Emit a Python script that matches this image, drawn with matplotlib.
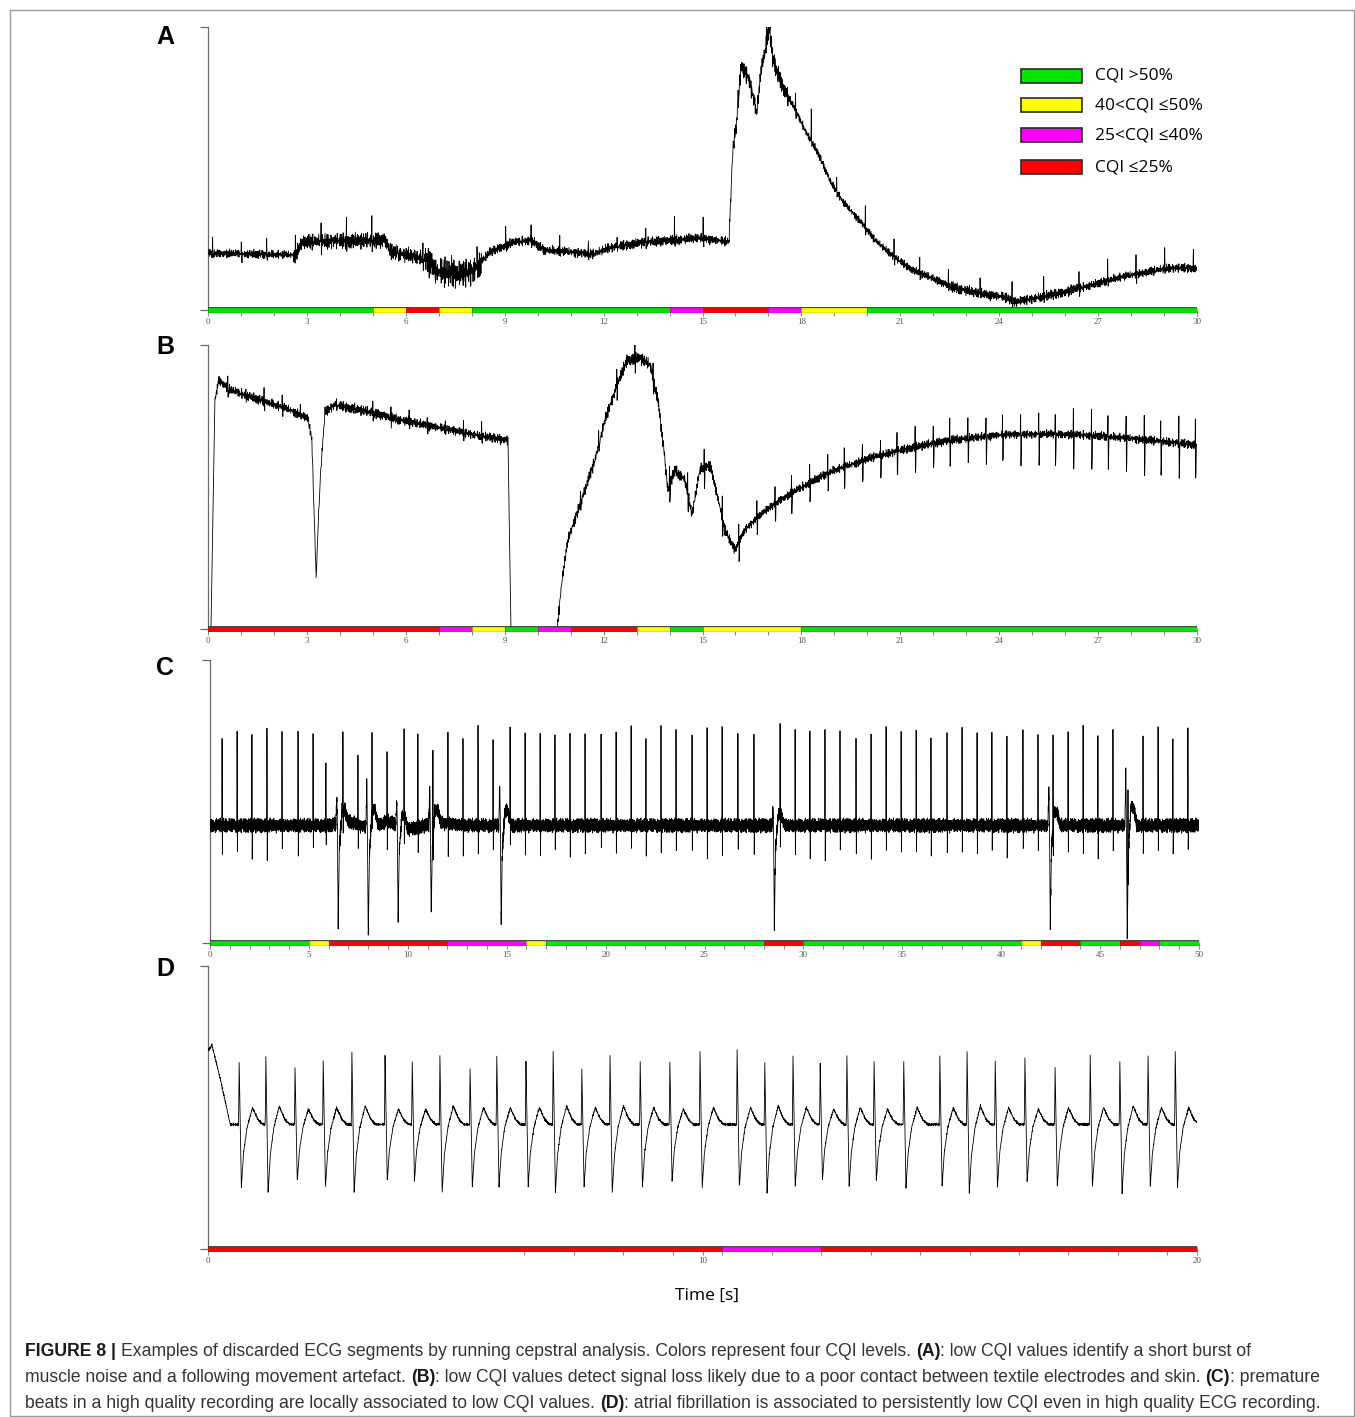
import numpy as np
import matplotlib
matplotlib.use("Agg")
import matplotlib.pyplot as plt
from matplotlib.patches import Rectangle
import matplotlib.patheffects as pe
from matplotlib import font_manager

W, H = 1355, 1417

# ======================= DATA =======================
legend_labels = ["CQI >50%", "40<CQI \u226450%", "25<CQI \u226440%", "CQI \u226425%"]
legend_levels = ["G", "Y", "M", "R"]
cqi_colors = {"G": "#00e400", "Y": "#ffff00", "M": "#ff00ff", "R": "#ff0000"}

# ---- Panel A (30 s) ----
a_cqi_edges = [0, 5, 6, 7, 8, 14, 15, 17, 18, 20, 30]
a_cqi_levels = ["G", "Y", "R", "Y", "G", "M", "R", "M", "Y", "G"]
a_base_t = [0.0, 0.06, 2.64, 2.85, 5.37, 5.55, 6.70, 6.92, 7.64, 8.07, 8.55, 9.22, 9.80, 10.19,
            11.74, 12.13, 13.28, 14.92, 15.80, 15.92, 16.04, 16.17, 16.38, 16.53, 16.65, 16.77,
            16.89, 17.02, 17.14, 17.44, 17.71, 18.11, 18.50, 18.90, 19.26, 19.84, 20.23, 20.81,
            21.38, 21.96, 22.57, 23.32, 24.11, 24.48, 25.27, 26.02, 26.81, 27.57, 28.36, 29.12, 30.0]
a_base_y = [20.0, 20.1, 19.4, 24.0, 24.7, 20.5, 17.7, 13.4, 12.4, 14.1, 20.5, 23.7, 24.7, 21.2,
            19.8, 21.9, 24.0, 25.4, 24.0, 56.5, 67.1, 85.9, 82.3, 76.0, 68.9, 84.8,
            90.5, 99.6, 88.3, 78.8, 73.1, 63.6, 55.5, 44.9, 38.2, 30.7, 24.7, 18.7,
            14.1, 11.3, 8.1, 6.0, 4.6, 2.8, 4.6, 6.4, 8.8, 11.3, 13.1, 14.8, 14.8]
a_beat_t = [0.14, 1.01, 1.78, 2.65, 3.43, 4.20, 4.97, 5.75, 6.52, 7.39, 8.16, 9.03, 9.80, 10.67,
            11.54, 12.41, 13.28, 14.15, 15.02, 16.08, 16.95, 17.82, 18.30, 19.07, 19.94, 20.81,
            21.59, 22.46, 23.42, 24.39, 25.35, 26.42, 27.29, 28.15, 29.02, 29.89]
a_beat_r = [6, 5, 6, 5, 7, 6, 6, 5, 6, 6, 7, 6, 5, 5,
            5, 5, 5, 7, 7, 6, 8, 6, 12, 6, 7, 6,
            5, 6, 6, 7, 6, 6, 7, 6, 7, 8]
a_beat_s = [3, 3, 4, 3, 4, 3, 4, 3, 4, 3, 4, 3, 3, 3,
            3, 3, 3, 3, 3, 3, 3, 3, 3, 3, 3, 3,
            3, 3, 3, 4, 3, 3, 3, 3, 3, 3]
a_noise_t = [0, 2.6, 6.6, 8.3, 15.8, 17.6, 22.5, 26.5, 30]
a_noise_amp = [1.8, 3.2, 6.5, 2.0, 4.0, 1.6, 2.2, 1.8]

# ---- Panel B (30 s) ----
b_cqi_edges = [0, 7, 8, 9, 10, 11, 13, 14, 15, 18, 30]
b_cqi_levels = ["R", "M", "Y", "G", "M", "R", "Y", "G", "Y", "G"]
b_base_t = [0.0, 0.09, 0.21, 0.33, 0.67, 1.58, 2.49, 3.03, 3.15, 3.28, 3.40, 3.55, 3.85, 4.91,
            5.82, 7.34, 8.25, 9.10, 9.19, 10.59, 10.74, 10.92, 11.28, 11.74, 12.04, 12.41, 12.71,
            13.10, 13.41, 13.65, 13.83, 13.95, 14.16, 14.47, 14.68, 14.92, 15.23, 15.41, 15.68,
            15.98, 16.29, 16.74, 17.35, 17.96, 18.87, 20.08, 21.29, 22.51, 24.02, 25.54, 27.06,
            28.57, 30.0]
b_base_y = [0.0, 0.0, 80.6, 87.7, 84.2, 80.6, 77.1, 74.3, 66.5, 18.0, 52.5, 76.4, 78.9, 76.4,
            73.6, 70.1, 68.0, 66.5, 0.0, 0.0, 17.3, 31.3, 43.7, 59.5, 73.6, 85.9, 94.7,
            95.4, 93.0, 80.6, 63.0, 48.9, 56.0, 52.5, 40.1, 56.0, 57.7, 48.9, 34.9,
            27.8, 34.9, 40.1, 45.4, 49.6, 55.3, 60.2, 63.7, 66.5, 68.3, 68.7, 68.0,
            66.5, 64.8]
b_beat_t = [0.60, 1.15, 1.70, 2.25, 2.80, 3.90, 4.45, 5.00, 5.55, 6.10, 6.65, 7.20, 7.75, 8.30,
            8.85, 11.30, 11.85, 12.40, 12.95, 13.50, 14.00, 14.55, 15.05, 15.60, 16.10, 16.65,
            17.20, 17.70, 18.25, 18.80, 19.30, 19.85, 20.40, 20.90, 21.45, 22.00, 22.50, 23.05,
            23.60, 24.10, 24.65, 25.20, 25.70, 26.25, 26.80, 27.30, 27.85, 28.40, 28.90, 29.45,
            29.95]
b_beat_r = [4, 3, 4, 3, 4, 4, 3, 4, 3, 4, 3, 4, 3, 4,
            3, 5, 6, 5, 6, 5, 6, 6, 5, 6, 6, 6,
            6, 6, 6, 7, 6, 7, 6, 7, 7, 7, 7, 8,
            7, 8, 8, 8, 8, 8, 8, 8, 8, 8, 8, 8,
            8]
b_beat_s = [3, 3, 3, 3, 3, 3, 3, 3, 3, 3, 3, 3, 3, 3,
            3, 4, 5, 5, 6, 6, 8, 8, 9, 8, 9, 8,
            9, 9, 10, 10, 10, 11, 11, 12, 12, 12, 13, 13,
            13, 14, 14, 14, 15, 15, 15, 15, 15, 16, 15, 16,
            16]
b_noise_t = [0, 0.2, 9.15, 10.6, 16.0, 30]
b_noise_amp = [0.0, 2.0, 0.0, 2.4, 1.8]

# ---- Panel C (50 s) ----
c_cqi_edges = [0, 5, 6, 12, 16, 17, 28, 30, 41, 42, 44, 46, 47, 48, 50]
c_cqi_levels = ["G", "Y", "R", "M", "Y", "G", "R", "G", "Y", "R", "G", "R", "M", "G"]
c_base_t = [0.0, 6.0, 7.0, 8.0, 9.0, 10.0, 11.5, 13.0, 50.0]
c_base_y = [41.5, 41.5, 43.0, 40.5, 43.0, 40.0, 42.5, 41.5, 41.5]
c_beat_t = [0.61, 1.37, 2.12, 2.88, 3.64, 4.45, 5.21, 5.86, 6.72, 7.48, 8.19, 8.95, 9.81,
            10.51, 11.27, 12.03, 12.79, 13.55, 14.31, 15.17, 15.93, 16.69, 17.44, 18.20,
            18.96, 19.77, 20.53, 21.29, 22.04, 22.80, 23.56, 24.37, 25.13, 25.89, 26.69,
            27.50, 28.82, 29.58, 30.33, 31.09, 31.85, 32.66, 33.42, 34.18, 34.94, 35.70,
            36.45, 37.26, 38.02, 38.78, 39.53, 40.29, 41.10, 41.86, 42.62, 43.38, 44.14,
            44.89, 45.65, 46.41, 47.17, 47.93, 48.68, 49.44]
c_beat_r = [33, 33, 32, 33, 33, 32, 32, 22, 26, 22, 27, 25, 33,
            33, 33, 33, 32, 33, 28, 33, 33, 33, 33, 33,
            33, 33, 33, 33, 33, 33, 33, 33, 33, 33, 33,
            33, 33, 33, 33, 33, 33, 33, 33, 33, 33, 33,
            33, 33, 33, 33, 33, 33, 33, 33, 33, 33, 33,
            33, 33, 33, 33, 33, 33, 33]
c_beat_s = [12, 12, 12, 12, 12, 12, 12, 10, 10, 10, 10, 10, 12,
            12, 12, 12, 12, 12, 12, 12, 12, 12, 12, 12,
            12, 12, 12, 12, 12, 12, 12, 12, 12, 12, 12,
            12, 12, 12, 12, 12, 12, 12, 12, 12, 12, 12,
            12, 12, 12, 12, 12, 12, 12, 12, 12, 12, 12,
            12, 12, 12, 12, 12, 12, 12]
c_pvc_t = [6.42, 7.94, 9.45, 11.12, 14.66, 28.47, 42.42, 46.31]
c_pvc_up = [10, 18, 8, 12, 14, 6, 12, 20]
c_pvc_down = [36, 39, 35, 33, 35, 36, 36, 39]
c_noise_t = [0, 50]
c_noise_amp = [2.8]

# ---- Panel D (20 s) ----
d_cqi_edges = [0, 10.4, 12.4, 20]
d_cqi_levels = ["R", "M", "R"]
d_base_t = [0.0, 0.08, 0.25, 0.45, 20.0]
d_base_y = [70.0, 72.0, 60.0, 44.0, 44.0]
d_beat_t = [0.63, 1.17, 1.76, 2.33, 2.91, 3.58, 4.13, 4.69, 5.30, 5.84, 6.43, 6.98, 7.56,
            8.13, 8.74, 9.34, 9.95, 10.70, 11.26, 11.83, 12.38, 12.92, 13.47, 14.07, 14.80,
            15.35, 15.92, 16.52, 17.13, 17.84, 18.44, 19.01, 19.56]
d_beat_r = [22, 24, 20, 22, 26, 24, 22, 24, 20, 24, 22, 26, 20,
            24, 22, 22, 26, 26, 22, 24, 22, 24, 22, 22, 24,
            26, 22, 24, 20, 24, 22, 24, 26]
d_beat_s = [22, 24, 20, 22, 24, 20, 20, 24, 22, 22, 22, 24, 22,
            24, 22, 20, 22, 22, 24, 22, 20, 22, 20, 22, 22,
            24, 22, 20, 22, 22, 24, 22, 22]
d_noise_t = [0, 20]
d_noise_amp = [0.6]

caption_lines = [
    [("FIGURE 8 | ", True), ("Examples of discarded ECG segments by running cepstral analysis. Colors represent four CQI levels. ", False),
     ("(A)", True), (": low CQI values identify a short burst of", False)],
    [("muscle noise and a following movement artefact. ", False), ("(B)", True),
     (": low CQI values detect signal loss likely due to a poor contact between textile electrodes and skin. ", False),
     ("(C)", True), (": premature", False)],
    [("beats in a high quality recording are locally associated to low CQI values. ", False), ("(D)", True),
     (": atrial fibrillation is associated to persistently low CQI even in high quality ECG recording.", False)],
]

# ================== STYLE CONSTANTS (texture, not data) ==================
JIT1 = [0.3, -0.8, 0.5, 1.0, -0.4, -1.0, 0.7, 0.1, -0.6, 0.9, -0.2, -0.9, 0.4, 0.8, -0.7, 0.2,
        1.0, -0.5, -0.1, 0.6, -1.0, 0.3, 0.9, -0.3, -0.8, 0.5, 0.0, -0.6, 1.0, -0.9, 0.2, 0.7,
        -0.4, 0.4, -0.7, 0.8, -0.2]
JIT2 = [-0.5, 0.9, -0.1, 0.6, -1.0, 0.3, 0.8, -0.7, 0.1, -0.3, 1.0, -0.8, 0.4, -0.2, 0.7,
        -0.6, 0.5, -0.9, 0.2, 0.9, -0.4, 0.0, -0.7]

SPIKE_OFF = [-0.03, -0.008, 0.0, 0.012, 0.03, 0.05]
SPIKE_R = [0, 0, 1, 0, 0, 0]
SPIKE_S = [0, 0, 0, -1, 0, 0]
PVC_OFF = [-0.06, -0.01, 0.02, 0.06, 0.12, 0.25, 0.40, 0.55]
PVC_UP = [0, 1, 0, 0, 0, 0.25, 0.1, 0]
PVC_DN = [0, 0, 0, -1, -0.25, 0.05, 0.1, 0]
AF_OFF = [-0.05, -0.012, 0.0, 0.045, 0.09, 0.16, 0.27, 0.38, 0.48]
AF_R = [0, 0, 1, 0, 0, 0, 0, 0, 0]
AF_S = [0, 0, 0, -1, -0.45, -0.05, 0.27, 0.08, 0]


def fnt(name, fallback="DejaVu Sans"):
    try:
        font_manager.findfont(name, fallback_to_default=False)
        return name
    except Exception:
        return fallback


def build(T, dt, bt, by, noise_t, noise_amp, parts):
    t = np.arange(0, T + dt / 2, dt)
    y = np.interp(t, bt, by)
    idx = np.arange(len(t))
    jit = np.array(JIT1)[idx % len(JIT1)] + 0.6 * np.array(JIT2)[idx % len(JIT2)]
    amp = np.zeros_like(t)
    for i in range(len(noise_amp)):
        m = (t >= noise_t[i]) & (t < noise_t[i + 1])
        amp[m] = noise_amp[i]
    y = y + jit * amp * 0.6
    for offs, shapes, times, amps in parts:
        offs = np.array(offs)
        for k, t0 in enumerate(times):
            vals = np.zeros(len(offs))
            for sh, am in zip(shapes, amps):
                vals = vals + np.array(sh) * am[k]
            m = (t >= t0 + offs[0]) & (t <= t0 + offs[-1])
            y[m] += np.interp(t[m], t0 + offs, vals)
    return t, y


fig = plt.figure(figsize=(W / 100, H / 100), dpi=100)

# outer frame
fig.add_artist(Rectangle((10 / W, 1 - 1416 / H), 1344 / W, 1406 / H, transform=fig.transFigure,
                         fill=False, edgecolor="#9a9a9a", lw=1.0))

serif = fnt("Liberation Serif", "DejaVu Serif")
sans = fnt("Liberation Sans")
ui = fnt("Open Sans")


def make_ax(left, right, top, bottom, T, major, minor, edges, levels, label, lab_y):
    ax = fig.add_axes([left / W, 1 - bottom / H, (right - left) / W, (bottom - top) / H])
    ax.set_xlim(0, T)
    ax.set_ylim(0, 100)
    for s in ["top", "right", "bottom"]:
        ax.spines[s].set_visible(False)
    ax.spines["left"].set_color("#6a6a6a")
    ax.spines["left"].set_linewidth(0.9)
    ax.set_yticks([0, 100])
    ax.set_yticklabels([])
    ax.tick_params(axis="y", length=6, width=0.9, color="#6a6a6a")
    ax.set_xticks(major)
    ax.set_xticklabels([str(int(m)) if float(m).is_integer() else str(m) for m in major])
    ax.set_xticks(minor, minor=True)
    ax.tick_params(axis="x", which="both", length=4, width=0.8, color="#8a8a8a", pad=1.5,
                   labelsize=6.5, labelcolor="#555555")
    for lab in ax.get_xticklabels():
        lab.set_family(serif)
    ax.set_facecolor("none")
    for i, lev in enumerate(levels):
        ax.plot([edges[i], edges[i + 1]], [0, 0], color=cqi_colors[lev], lw=3.4,
                solid_capstyle="butt", clip_on=False, zorder=6,
                path_effects=[pe.Stroke(linewidth=4.2, foreground="#3c3c3c"), pe.Normal()])
    fig.text(165 / W, 1 - lab_y / H, label, fontsize=18, fontweight="bold", family=sans,
             ha="center", va="center")
    return ax


# Panel A
axA = make_ax(208, 1197, 27, 310, 30, list(range(0, 31, 3)), list(range(0, 31)),
              a_cqi_edges, a_cqi_levels, "A", 37)
t, y = build(30, 0.01, a_base_t, a_base_y, a_noise_t, a_noise_amp,
             [(SPIKE_OFF, [SPIKE_R, SPIKE_S], a_beat_t, [a_beat_r, a_beat_s])])
axA.plot(t, y, color="black", lw=0.6, zorder=3)

# Panel B
axB = make_ax(208, 1197, 345, 629, 30, list(range(0, 31, 3)), list(range(0, 31)),
              b_cqi_edges, b_cqi_levels, "B", 347)
t, y = build(30, 0.01, b_base_t, b_base_y, b_noise_t, b_noise_amp,
             [(SPIKE_OFF, [SPIKE_R, SPIKE_S], b_beat_t, [b_beat_r, b_beat_s])])
axB.plot(t, y, color="black", lw=0.6, zorder=3)

# Panel C
axC = make_ax(210, 1199, 660, 943, 50, list(range(0, 51, 5)), list(range(0, 51)),
              c_cqi_edges, c_cqi_levels, "C", 668)
t, y = build(50, 0.005, c_base_t, c_base_y, c_noise_t, c_noise_amp,
             [(SPIKE_OFF, [SPIKE_R, SPIKE_S], c_beat_t, [c_beat_r, c_beat_s]),
              (PVC_OFF, [PVC_UP, PVC_DN], c_pvc_t, [c_pvc_up, c_pvc_down])])
axC.plot(t, y, color="black", lw=0.6, zorder=3)

# Panel D
d_minor = [6.4, 7.4, 8.4, 9.4, 10.4, 11.4, 12.4, 13.4, 14.4, 15.4, 16.4, 17.4, 18.4, 19.4]
axD = make_ax(208, 1197, 966, 1249, 20, [0, 10, 20], d_minor, d_cqi_edges, d_cqi_levels, "D", 969)
t, y = build(20, 0.005, d_base_t, d_base_y, d_noise_t, d_noise_amp,
             [(AF_OFF, [AF_R, AF_S], d_beat_t, [d_beat_r, d_beat_s])])
axD.plot(t, y, color="black", lw=0.6, zorder=3)

fig.text(707 / W, 1 - 1296 / H, "Time [s]", fontsize=12.5, family=ui, ha="center", va="center")

# Legend
leg_y = [69, 98, 128, 160]
for yy, lab, lev in zip(leg_y, legend_labels, legend_levels):
    fig.add_artist(Rectangle((1021 / W, 1 - (yy + 14) / H), 61 / W, 14 / H, transform=fig.transFigure,
                             facecolor=cqi_colors[lev], edgecolor="#2a2a2a", lw=1.2))
    fig.text(1095 / W, 1 - (yy + 7) / H, lab, fontsize=12.5, family=[ui, "DejaVu Sans"],
             ha="left", va="center")

# Caption with bold runs
cap_font = sans
renderer = fig.canvas.get_renderer()
cap_size = 12.7
line_y = [1352, 1378, 1403]
for ly, runs in zip(line_y, caption_lines):
    x = 25.0
    for txt, bold in runs:
        tt = fig.text(x / W, 1 - ly / H, txt, fontsize=cap_size, family=cap_font,
                      fontweight="bold" if bold else "normal", ha="left", va="center",
                      color="#1a1a1a" if bold else "#333333")
        bb = tt.get_window_extent(renderer=renderer)
        x += bb.width

fig.savefig("out.png", dpi=100)
